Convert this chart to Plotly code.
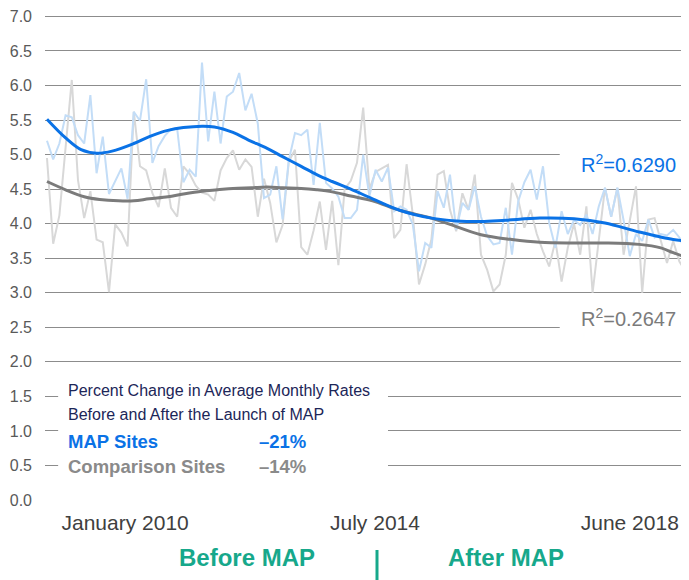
import plotly.graph_objects as go

# ---------------- data ----------------
map_sites = [5.20, 4.93, 5.16, 5.57, 5.54, 5.28, 5.16, 5.86, 4.73, 5.26,
             4.43, 4.61, 4.80, 4.36, 5.62, 5.49, 6.09, 4.88, 5.12, 5.27,
             5.37, 5.37, 4.60, 4.78, 4.68, 6.33, 5.19, 5.91, 5.16, 5.84,
             5.91, 6.18, 5.64, 5.88, 5.45, 4.37, 4.42, 4.83, 4.06, 4.92,
             5.31, 5.28, 5.36, 4.56, 5.46, 4.59, 4.51, 4.39, 4.08, 4.08,
             4.20, 5.00, 4.40, 4.78, 4.61, 4.81, 4.18, 4.25, 4.20, 3.99,
             3.31, 3.72, 3.65, 4.47, 4.23, 4.71, 3.91, 4.30, 4.20, 4.54,
             4.10, 3.82, 3.70, 3.72, 4.23, 3.55, 4.32, 4.60, 4.78, 4.35,
             4.83, 4.01, 3.65, 4.18, 3.85, 4.05, 3.98, 4.13, 3.85, 4.25,
             4.52, 4.10, 4.52, 4.05, 3.53, 3.85, 3.75, 4.06, 3.80, 3.85,
             3.83, 3.91, 3.80, 3.60]

comparison_sites = [4.95, 3.71, 4.12, 5.16, 6.08, 4.63, 4.08, 4.47, 3.77, 3.73,
                    3.01, 3.99, 3.87, 3.67, 5.62, 4.83, 4.77, 4.44, 4.24, 4.80,
                    4.23, 4.10, 4.83, 4.72, 4.55, 4.45, 4.42, 4.33, 4.77, 4.95,
                    5.06, 4.78, 4.93, 4.82, 4.10, 4.65, 4.30, 3.73, 3.98, 4.90,
                    5.07, 3.66, 3.55, 3.90, 4.32, 3.62, 4.33, 3.40, 4.50, 4.62,
                    4.88, 5.68, 4.50, 4.75, 4.80, 4.85, 3.79, 3.91, 4.86, 4.13,
                    3.12, 3.41, 3.77, 4.71, 4.76, 4.20, 3.89, 4.44, 4.20, 4.71,
                    3.55, 3.33, 3.02, 3.12, 3.55, 4.59, 4.35, 3.94, 4.20, 3.85,
                    3.60, 3.38, 3.75, 3.16, 3.65, 4.00, 3.55, 4.25, 3.00, 3.80,
                    4.52, 4.10, 4.52, 3.55, 4.05, 4.54, 3.00, 4.06, 4.08, 3.75,
                    3.43, 3.75, 3.45, 3.31]

months = list(range(len(map_sites)))

# polynomial trend lines
map_trend_x = [0, 3, 5.5, 8, 10.5, 14, 16.5, 19.5, 22, 25, 27, 30, 32.5, 35.5, 38,
               41, 43.5, 46, 49, 52.5, 57, 62, 66, 70, 74, 79.5, 85, 90, 95.5, 101, 103.5]
map_trend_y = [5.51, 5.24, 5.07, 5.02, 5.05, 5.16, 5.26, 5.35, 5.39, 5.41, 5.40, 5.32, 5.21, 5.09, 4.97,
               4.83, 4.71, 4.61, 4.50, 4.36, 4.19, 4.08, 4.04, 4.03, 4.05, 4.08, 4.07, 4.01, 3.88, 3.77, 3.75]

cmp_trend_x = [0, 3, 6, 8.5, 11.5, 14, 16.5, 19.5, 22, 25, 27.5, 30, 33, 35.5, 38, 41,
               43.5, 46, 49, 52.5, 57, 62, 65, 70, 75, 79.5, 85, 90, 95.5, 99, 101, 103.5]
cmp_trend_y = [4.61, 4.49, 4.39, 4.35, 4.33, 4.33, 4.36, 4.39, 4.43, 4.47, 4.49, 4.51, 4.52, 4.53, 4.52, 4.51,
               4.49, 4.46, 4.40, 4.33, 4.19, 4.08, 3.99, 3.84, 3.77, 3.73, 3.72, 3.72, 3.70, 3.65, 3.58, 3.50]

tick_positions = [12.6, 52.9, 94.0]
tick_labels = ["January 2010", "July 2014", "June 2018"]
y_ticks = [0.0, 0.5, 1.0, 1.5, 2.0, 2.5, 3.0, 3.5, 4.0, 4.5, 5.0, 5.5, 6.0, 6.5, 7.0]

map_r2 = "0.6290"
cmp_r2 = "0.2647"
map_change = "\u201321%"
cmp_change = "\u201314%"

# ---------------- style ----------------
FONT = "Liberation Sans, Arial, sans-serif"
BLUE = "#0a72e6"
LIGHT_BLUE = "#c3ddf7"
GRAY = "#7b7b7b"
LIGHT_GRAY = "#d8d8d8"
TEAL = "#17a88b"
NAVY = "#1c2658"

fig = go.Figure()
fig.add_trace(go.Scatter(x=months, y=comparison_sites, mode="lines",
                         line=dict(color=LIGHT_GRAY, width=2), hoverinfo="skip"))
fig.add_trace(go.Scatter(x=months, y=map_sites, mode="lines",
                         line=dict(color=LIGHT_BLUE, width=2), hoverinfo="skip"))
fig.add_trace(go.Scatter(x=cmp_trend_x, y=cmp_trend_y, mode="lines",
                         line=dict(color=GRAY, width=3, shape="spline", smoothing=1.0), hoverinfo="skip"))
fig.add_trace(go.Scatter(x=map_trend_x, y=map_trend_y, mode="lines",
                         line=dict(color=BLUE, width=3, shape="spline", smoothing=1.0), hoverinfo="skip"))

x0, x1 = -0.32, 103.55
y0, y1 = 0.0, 7.02

# white boxes behind the text (cover the gridlines)
fig.add_shape(type="rect", xref="x", yref="y", x0=1.8, x1=55.0, y0=0.29, y1=1.81,
              fillcolor="white", line=dict(width=0), layer="between")
fig.add_shape(type="rect", xref="x", yref="y", x0=82.7, x1=x1, y0=4.63, y1=5.28,
              fillcolor="white", line=dict(width=0), layer="between")
fig.add_shape(type="rect", xref="x", yref="y", x0=82.7, x1=x1, y0=2.24, y1=2.89,
              fillcolor="white", line=dict(width=0), layer="between")

# screen position helpers (page has an 8px body margin; plot area x 45..689, value 0 at y=500)
TOP = 15   # screen y of plot-area top
def py(p):
    return (500 - p) / (500.0 - TOP)

def px(p):
    return (p - 45) / 644.0

# divider between before / after
fig.add_shape(type="line", xref="paper", yref="paper", x0=px(377), x1=px(377), y0=py(550), y1=py(582),
              line=dict(color=TEAL, width=3))

ann = []
ann.append(dict(text="Percent Change in Average Monthly Rates", x=px(66), y=py(390),
                font=dict(size=16, color=NAVY, family=FONT)))
ann.append(dict(text="Before and After the Launch of MAP", x=px(66), y=py(414),
                font=dict(size=16, color=NAVY, family=FONT)))
ann.append(dict(text="<b>MAP Sites</b>", x=px(66), y=py(441),
                font=dict(size=18.5, color=BLUE, family=FONT)))
ann.append(dict(text="<b>" + map_change + "</b>", x=px(257), y=py(441),
                font=dict(size=18.5, color=BLUE, family=FONT)))
ann.append(dict(text="<b>Comparison Sites</b>", x=px(66), y=py(466),
                font=dict(size=18.5, color="#8a8a8a", family=FONT)))
ann.append(dict(text="<b>" + cmp_change + "</b>", x=px(257), y=py(466),
                font=dict(size=18.5, color="#8a8a8a", family=FONT)))
ann.append(dict(text="R<sup>2</sup>=" + map_r2, x=px(579), y=py(163),
                font=dict(size=20, color=BLUE, family=FONT)))
ann.append(dict(text="R<sup>2</sup>=" + cmp_r2, x=px(579), y=py(317),
                font=dict(size=20, color=GRAY, family=FONT)))
for a in ann:
    a.update(xref="paper", yref="paper", xanchor="left", yanchor="middle", showarrow=False)

fig.add_annotation(text="<b>Before MAP</b>", xref="paper", yref="paper", x=px(247), y=py(557),
                   xanchor="center", yanchor="middle", showarrow=False,
                   font=dict(size=24, color=TEAL, family=FONT))
fig.add_annotation(text="<b>After MAP</b>", xref="paper", yref="paper", x=px(506), y=py(557),
                   xanchor="center", yanchor="middle", showarrow=False,
                   font=dict(size=24, color=TEAL, family=FONT))
for a in ann:
    fig.add_annotation(**a)

fig.update_layout(
    width=681, height=572,
    margin=dict(l=37, r=0, t=TOP - 8, b=80),
    paper_bgcolor="white", plot_bgcolor="white",
    showlegend=False,
    font=dict(family=FONT),
    xaxis=dict(range=[x0, x1], tickmode="array", tickvals=tick_positions, ticktext=tick_labels,
               showgrid=False, zeroline=False, showline=False, ticks="",
               tickfont=dict(size=21, color="#404040", family=FONT), ticklabelstandoff=8,
               ticklabeloverflow="allow", fixedrange=True),
    yaxis=dict(range=[y0, y1], tickmode="array", tickvals=y_ticks,
               ticktext=[f"{v:.1f}" for v in y_ticks],
               showgrid=True, gridcolor="#8c8c8c", gridwidth=1.2, zeroline=False,
               showline=False, ticks="", ticklabelstandoff=12, ticklabeloverflow="allow",
               tickfont=dict(size=16, color="#595959", family=FONT), fixedrange=True),
)

fig.write_html("out.html", config={"displayModeBar": False})
